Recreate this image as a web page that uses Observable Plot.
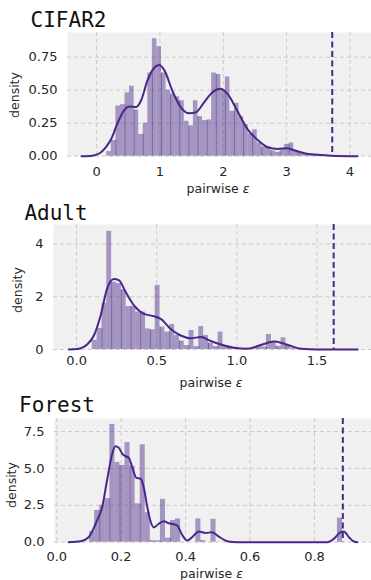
<!DOCTYPE html>
<html><head><meta charset="utf-8">
<script src="https://cdn.jsdelivr.net/npm/d3@7"></script>
<script src="https://cdn.jsdelivr.net/npm/@observablehq/plot@0.6"></script>
<style>
body{margin:0;background:#fff;}
#wrap{position:relative;width:371px;height:580px;overflow:hidden;}
#wrap svg{position:absolute;left:0;}
</style></head><body><div id="wrap"></div>
<script>
// ---------- data ----------
const titles = ["CIFAR2", "Adult", "Forest"];
const xLabel = "pairwise ";
const xLabelSymbol = "ε";
const yLabel = "density";

const cifarBinStart = 0.16, cifarBinWidth = 0.072;
const cifarHeights = [0.035,0.12,0.38,0.39,0.48,0.53,0.35,0.165,0.25,0.63,0.89,0.83,0.63,0.50,0.47,0.45,0.42,0.265,0.23,0.42,0.30,0.27,0.275,0.63,0.62,0.50,0.60,0.34,0.40,0.30,0.24,0.17,0.20,0.10,0.07,0.07,0.04,0.03,0.05,0.09,0.10,0.04,0.025,0.015,0.012,0.008,0.005,0.004];
const cifarKde = [[-0.24,0],[-0.1,0.002],[0.0,0.012],[0.07,0.03],[0.15,0.07],[0.23,0.13],[0.33,0.25],[0.43,0.345],[0.52,0.376],[0.62,0.372],[0.70,0.42],[0.80,0.57],[0.91,0.67],[0.99,0.69],[1.07,0.65],[1.2,0.49],[1.33,0.37],[1.46,0.325],[1.57,0.333],[1.70,0.41],[1.83,0.485],[1.95,0.51],[2.07,0.47],[2.22,0.345],[2.39,0.20],[2.55,0.12],[2.70,0.068],[2.86,0.055],[3.0,0.06],[3.12,0.045],[3.28,0.023],[3.44,0.012],[3.7,0.004],[4.12,0]];
const cifarThreshold = 3.72;
const cifarXTicks = [0,1,2,3,4];
const cifarXTickLabels = ["0","1","2","3","4"];
const cifarYTicks = [0,0.25,0.5,0.75];
const cifarYTickLabels = ["0.00","0.25","0.50","0.75"];

const adultBinStart = 0.098, adultBinWidth = 0.0302;
const adultHeights = [0.35,0.8,1.75,4.48,2.55,2.5,2.26,1.63,1.63,1.42,1.42,0.78,0.75,2.43,0.85,0.66,0.95,0.53,0.32,0.15,0.72,0.11,0.87,0.53,0.24,0.11,0.66,0.15,0.09,0.05,0.03,0.03,0.05,0.09,0.12,0.1,0.57,0.28,0.12,0.44,0.15,0.03];
const adultKde = [[-0.048,0],[0.004,0.02],[0.067,0.2],[0.108,0.53],[0.15,1.29],[0.19,2.3],[0.233,2.67],[0.265,2.62],[0.306,2.18],[0.358,1.67],[0.42,1.35],[0.483,1.26],[0.525,1.16],[0.587,0.78],[0.65,0.53],[0.71,0.43],[0.775,0.47],[0.837,0.32],[0.9,0.19],[0.983,0.063],[1.067,0.025],[1.129,0.13],[1.19,0.25],[1.233,0.30],[1.285,0.24],[1.337,0.13],[1.4,0.025],[1.504,0.003],[1.754,0]];
const adultThreshold = 1.604;
const adultXTicks = [0,0.5,1,1.5];
const adultXTickLabels = ["0.0","0.5","1.0","1.5"];
const adultYTicks = [0,2,4];
const adultYTickLabels = ["0","2","4"];

const forestBinStart = 0.102, forestBinWidth = 0.0157;
const forestHeights = [0.72,2.15,2.5,2.95,7.98,5.4,5.2,6.75,5.15,2.6,6.6,2.0,0.1,0.1,2.9,0.27,1.47,1.58,0,0,0,1.58,0.1,0,1.55,0,0,0,0,0,0,0,0,0,0,0,0,0,0,0,0,0,0,0,0,0,0,0,0,1.63];
const forestKde = [[0.037,0],[0.074,0.07],[0.099,0.34],[0.125,1.47],[0.141,2.37],[0.156,4.18],[0.172,5.98],[0.182,6.5],[0.193,6.39],[0.203,6.0],[0.213,5.83],[0.224,5.71],[0.234,5.1],[0.247,4.36],[0.26,4.3],[0.27,3.73],[0.28,2.5],[0.29,1.5],[0.301,1.0],[0.317,1.25],[0.332,1.42],[0.348,1.28],[0.363,1.22],[0.374,1.13],[0.389,0.5],[0.405,0.11],[0.42,0.34],[0.441,0.72],[0.462,0.62],[0.482,0.68],[0.503,0.38],[0.529,0.07],[0.56,0],[0.84,0],[0.86,0.23],[0.881,0.68],[0.891,0.72],[0.907,0.34],[0.922,0.05],[0.933,0]];
const forestThreshold = 0.888;
const forestXTicks = [0,0.2,0.4,0.6,0.8];
const forestXTickLabels = ["0.0","0.2","0.4","0.6","0.8"];
const forestYTicks = [0,2.5,5,7.5];
const forestYTickLabels = ["0.0","2.5","5.0","7.5"];

// ---------- layout / style ----------
const purple = "#4a2688";
const panels = [
  {title: titles[0], binStart: cifarBinStart, binWidth: cifarBinWidth, heights: cifarHeights, kde: cifarKde, threshold: cifarThreshold,
   xTicks: cifarXTicks, xTickLabels: cifarXTickLabels, yTicks: cifarYTicks, yTickLabels: cifarYTickLabels,
   top: 0, height: 197, mt: 32, mb: 41.3, ml: 67, xDomain: [-0.46, 4.34], yDomain: [0, 0.937], xPad: 11,
   titleX: 68.5, titleY: 26.7, labelY: 193.2, densX: 18.5, densY: 95},
  {title: titles[1], binStart: adultBinStart, binWidth: adultBinWidth, heights: adultHeights, kde: adultKde, threshold: adultThreshold,
   xTicks: adultXTicks, xTickLabels: adultXTickLabels, yTicks: adultYTicks, yTickLabels: adultYTickLabels,
   top: 197, height: 193, mt: 27, mb: 41, ml: 53, xDomain: [-0.144, 1.84], yDomain: [0, 4.74], xPad: 6.5,
   titleX: 56, titleY: 23, labelY: 190, densX: 21.5, densY: 93},
  {title: titles[2], binStart: forestBinStart, binWidth: forestBinWidth, heights: forestHeights, kde: forestKde, threshold: forestThreshold,
   xTicks: forestXTicks, xTickLabels: forestXTickLabels, yTicks: forestYTicks, yTickLabels: forestYTickLabels,
   top: 390, height: 190, mt: 28, mb: 38.3, ml: 54, xDomain: [-0.007, 0.977], yDomain: [0, 8.38], xPad: 10,
   titleX: 57, titleY: 21.7, labelY: 188.2, densX: 16, densY: 95}
];

const wrap = document.getElementById("wrap");

for (const p of panels) {
  const bins = p.heights.map((h, i) => ({x1: p.binStart + i * p.binWidth, x2: p.binStart + (i + 1) * p.binWidth, h}));
  const edges = [];
  for (let i = 2; i < bins.length; i += 2) {
    const h = Math.min(bins[i].h, bins[i - 1].h);
    if (h > 0) edges.push({x: bins[i].x1, h});
  }
  const svg = Plot.plot({
    width: 371, height: p.height,
    marginTop: p.mt, marginBottom: p.mb, marginLeft: p.ml, marginRight: 0,
    style: {fontFamily: "DejaVu Sans", fontSize: "13px", color: "#262626", background: "transparent", overflow: "visible"},
    x: {domain: p.xDomain, ticks: p.xTicks, tickFormat: d => p.xTickLabels[p.xTicks.indexOf(d)], tickSize: 0, tickPadding: p.xPad, label: null},
    y: {domain: p.yDomain, ticks: p.yTicks, tickFormat: d => p.yTickLabels[p.yTicks.indexOf(d)], tickSize: 0, tickPadding: 10, label: null},
    marks: [
      Plot.frame({fill: "#f0f0f0", stroke: "none"}),
      Plot.ruleX(p.xTicks, {stroke: "#cbcbcb", strokeOpacity: 1, strokeWidth: 1, strokeDasharray: "4,3"}),
      Plot.ruleY(p.yTicks, {stroke: "#cbcbcb", strokeOpacity: 1, strokeWidth: 1, strokeDasharray: "4,3"}),
      Plot.rect(bins, {x1: "x1", x2: "x2", y1: d => 0, y2: "h", fill: purple, fillOpacity: 0.45}),
      Plot.ruleX(edges, {x: "x", y1: d => 0, y2: "h", stroke: purple, strokeOpacity: 0.45, strokeWidth: 1}),
      Plot.line(p.kde, {x: d => d[0], y: d => d[1], stroke: purple, strokeWidth: 2, curve: "monotone-x"}),
      Plot.ruleX([p.threshold], {stroke: purple, strokeWidth: 2, strokeDasharray: "6,3.5"})
    ]
  });
  svg.style.top = p.top + "px";
  const s = d3.select(svg);
  s.append("text").attr("x", p.titleX).attr("y", p.titleY)
    .attr("font-family", "DejaVu Sans Mono").attr("font-size", 21).attr("fill", "#111").text(p.title);
  const cx = (p.ml + 371) / 2 - 1;
  const t = s.append("text").attr("x", cx).attr("y", p.labelY).attr("text-anchor", "middle")
    .attr("font-family", "DejaVu Sans").attr("font-size", 12.5).attr("fill", "#262626");
  t.append("tspan").text(xLabel);
  t.append("tspan").attr("font-style", "italic").text(xLabelSymbol);
  s.append("text").attr("transform", `translate(${p.densX},${p.densY}) rotate(-90)`).attr("text-anchor", "middle")
    .attr("font-family", "DejaVu Sans").attr("font-size", 12.5).attr("fill", "#262626").text(yLabel);
  wrap.appendChild(svg);
}
</script>
</body></html>
